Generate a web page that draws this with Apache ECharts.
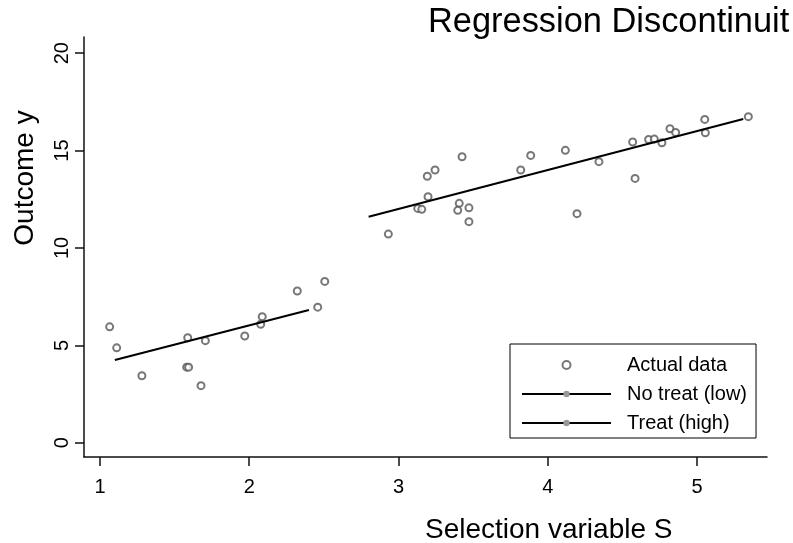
<!DOCTYPE html>
<html>
<head>
<meta charset="utf-8">
<script src="https://cdn.jsdelivr.net/npm/echarts@6/dist/echarts.min.js"></script>
<style>
  html, body { margin: 0; padding: 0; background: #fff; }
  #main { width: 793px; height: 543px; }
</style>
</head>
<body>
<div id="main"></div>
<script>
// observed data (selection variable S, outcome y)
var pointS = [1.065, 1.112, 1.281, 1.588, 1.581, 1.594, 1.706, 1.677, 1.970, 2.087, 2.077, 2.322, 2.459, 2.506,
  2.932, 3.129, 3.156, 3.198, 3.193, 3.245, 3.426, 3.407, 3.397, 3.472, 3.472, 3.819, 3.886, 4.118, 4.196,
  4.343, 4.585, 4.569, 4.676, 4.714, 4.765, 4.819, 4.857, 5.052, 5.056, 5.344];
var pointY = [5.95, 4.87, 3.44, 5.39, 3.88, 3.88, 5.24, 2.93, 5.48, 6.47, 6.08, 7.79, 6.96, 8.28,
  10.71, 12.03, 11.98, 12.63, 13.68, 14.00, 14.68, 12.29, 11.93, 12.06, 11.35, 14.00, 14.75, 15.01, 11.76,
  14.43, 13.57, 15.44, 15.57, 15.59, 15.40, 16.12, 15.93, 16.60, 15.91, 16.74];

// fitted lines
var lowFitS = [1.10, 2.40];
var lowFitY = [4.25, 6.81];
var highFitS = [2.80, 5.31];
var highFitY = [11.60, 16.62];

var xTicks = [1, 2, 3, 4, 5];
var yTicks = [0, 5, 10, 15, 20];

var font = "'Liberation Sans', Arial, sans-serif";

function pairs(xs, ys) {
  return xs.map(function (x, i) { return [x, ys[i]]; });
}

var chart = echarts.init(document.getElementById('main'), null, { renderer: 'canvas' });

var option = {
  animation: false,
  backgroundColor: '#fff',
  textStyle: { fontFamily: font },
  grid: { left: 84, right: 26, top: 37, bottom: 86 },
  xAxis: {
    type: 'value',
    min: 0.893,
    max: 5.469,
    axisLine: { show: true, onZero: false, lineStyle: { color: '#111', width: 1.5 } },
    axisTick: { show: true, length: 9, customValues: xTicks, lineStyle: { color: '#111', width: 1.5 } },
    axisLabel: { customValues: xTicks, margin: 20, fontSize: 20, color: '#000', fontFamily: font },
    splitLine: { show: false }
  },
  yAxis: {
    type: 'value',
    min: -0.734,
    max: 20.83,
    axisLine: { show: true, onZero: false, lineStyle: { color: '#111', width: 1.5 } },
    axisTick: { show: true, length: 9, customValues: yTicks, lineStyle: { color: '#111', width: 1.5 } },
    axisLabel: { customValues: yTicks, rotate: 90, margin: 12, fontSize: 20, color: '#000', fontFamily: font },
    splitLine: { show: false }
  },
  legend: {
    orient: 'vertical',
    left: 510,
    top: 344,
    align: 'left',
    backgroundColor: '#fff',
    borderColor: '#000',
    borderWidth: 1,
    padding: [11, 9, 5, 11],
    itemWidth: 89,
    itemHeight: 8,
    itemGap: 9,
    textStyle: { fontSize: 20, color: '#000', fontFamily: font, padding: [0, 0, 0, 11] },
    data: ['Actual data', 'No treat (low)', 'Treat (high)']
  },
  series: [
    {
      name: 'Actual data',
      type: 'scatter',
      symbol: 'emptyCircle',
      symbolSize: 7,
      itemStyle: { color: '#555', borderWidth: 1.6 },
      data: pairs(pointS, pointY)
    },
    {
      name: 'No treat (low)',
      type: 'line',
      symbol: 'none',
      itemStyle: { color: '#999' },
      lineStyle: { color: '#000', width: 2 },
      data: pairs(lowFitS, lowFitY)
    },
    {
      name: 'Treat (high)',
      type: 'line',
      symbol: 'none',
      itemStyle: { color: '#999' },
      lineStyle: { color: '#000', width: 2 },
      data: pairs(highFitS, highFitY)
    }
  ],
  graphic: [
    {
      type: 'text',
      left: 428,
      top: 6,
      style: { text: 'Regression Discontinuit', fontSize: 34.4, fill: '#000', fontFamily: font }
    },
    {
      type: 'text',
      x: 425,
      y: 530,
      style: { text: 'Selection variable S', fontSize: 28, fill: '#000', fontFamily: font, verticalAlign: 'middle' }
    },
    {
      type: 'text',
      x: 25,
      y: 178,
      rotation: Math.PI / 2,
      style: { text: 'Outcome y', fontSize: 28, fill: '#000', fontFamily: font, align: 'center', verticalAlign: 'middle' }
    }
  ]
};

chart.setOption(option);
</script>
</body>
</html>
